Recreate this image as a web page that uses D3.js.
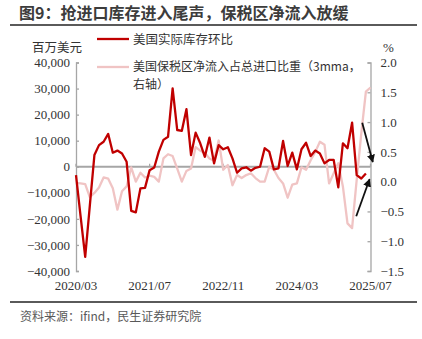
<!DOCTYPE html>
<html>
<head>
<meta charset="utf-8">
<script src="https://cdn.jsdelivr.net/npm/d3@7/dist/d3.min.js"></script>
<style>
  html, body { margin: 0; padding: 0; background: #fff; }
  svg { display: block; }
</style>
</head>
<body>
<svg id="chart" width="422" height="339"></svg>
<script>
// Monthly observations, 2020/03 – 2025/07
const startMonth = new Date(2020, 2, 1);
const monthCount = 65;
const months = d3.timeMonth.range(startMonth, d3.timeMonth.offset(startMonth, monthCount));
const monthLabels = months.map(d3.timeFormat("%Y/%m"));

// US real inventory change, month on month (million USD), 2020/03 – 2025/06
const inventoryChange = [
  -3200, -19000, -34600, -15000, 4500, 8300, 9600, 12600, 5400, 6200,
  5100, 1900, -16900, -17500, -8300, -8100, -1300, -300, 5800, 10300,
  11500, 30100, 14100, 13800, 22100, 4500, 13100, 9000, 3800, 11200,
  1300, 8300, 6700, 7500, 3200, -2300, -600, -200, -1500, -400,
  0, 7100, 5800, -1000, -600, 9900, 300, 5400, -1000, 6700,
  9200, 4100, 6200, 5100, 1300, 2600, 2600, -7900, 9000, 7100,
  16900, -3200, -4500, -2600
];

// Bonded-zone net inflow as share of total imports, 3mma (%), 2020/03 – 2025/07
const bondedShare = [
  -0.02, -0.03, -0.04, -0.26, -0.19, -0.10, 0.07, 0.05, -0.11, -0.47,
  -0.16, -0.08, 0.24, 0.00, 0.15, 0.07, 0.10, 0.08, 0.00, 0.39,
  0.46, 0.43, 0.22, 0.00, 0.18, 0.22, 0.58, 0.52, 0.48, 0.39,
  0.35, 0.69, 0.20, 0.28, -0.06, 0.11, 0.06, 0.11, 0.14, 0.06,
  0.00, 0.00, 0.25, 0.20, 0.06, -0.03, -0.27, -0.05, -0.03, 0.24,
  0.20, 0.36, 0.50, 0.67, 0.62, -0.03, 0.14, 0.31, -0.08, -0.70,
  -0.78, 0.03, 0.81, 1.51, 1.58
];

const xTickLabels = ["2020/03", "2021/07", "2022/11", "2024/03", "2025/07"];
const leftTicks = [40000, 30000, 20000, 10000, 0, -10000, -20000, -30000, -40000];
const rightTicks = [2.0, 1.5, 1.0, 0.5, 0.0, -0.5, -1.0, -1.5];

// Annotation arrows, expressed as [month index, inventory value] pairs
const arrows = [
  { from: [62.2, 16900], to: [64.5, 1800] },
  { from: [60.9, -19000], to: [63.8, -4800] }
];

const titleText = "图9：抢进口库存进入尾声，保税区净流入放缓";
const leftUnit = "百万美元";
const rightUnit = "%";
const legendRed = "美国实际库存环比";
const legendPink = ["美国保税区净流入占总进口比重（3mma，", "右轴）"];
const sourceText = "资料来源：ifind，民生证券研究院";

const svg = d3.select("#chart");
const serif = "'Liberation Serif', 'Times New Roman', serif";
const cjk = "'Noto Sans CJK SC', sans-serif";
const axisGrey = "#a6a6a6";
const red = "#c00000";
const pink = "#f0c4c4";

const plot = { left: 76, right: 370.5, top: 62.5, bottom: 271 };

const x = d3.scaleLinear().domain([0, monthCount - 1]).range([plot.left, plot.right]);
const yL = d3.scaleLinear().domain([-40000, 40000]).range([plot.bottom, plot.top]);
const yR = d3.scaleLinear().domain([-1.5, 2.0]).range([plot.bottom, plot.top]);

// Title and rules
svg.append("text")
  .attr("x", 19).attr("y", 19)
  .attr("font-family", cjk).attr("font-weight", "bold")
  .attr("font-size", 16).attr("fill", "#3c3c3c")
  .text(titleText);
svg.append("line").attr("x1", 10).attr("x2", 417).attr("y1", 25).attr("y2", 25)
  .attr("stroke", "#5a5a5a").attr("stroke-width", 2);
svg.append("line").attr("x1", 10).attr("x2", 417).attr("y1", 302).attr("y2", 302)
  .attr("stroke", "#5a5a5a").attr("stroke-width", 2);
svg.append("text")
  .attr("x", 20).attr("y", 321)
  .attr("font-family", cjk).attr("font-size", 12).attr("fill", "#595959")
  .text(sourceText);

// Unit labels
svg.append("text").attr("x", 32).attr("y", 52)
  .attr("font-family", cjk).attr("font-size", 12.5).attr("fill", "#333")
  .text(leftUnit);
svg.append("text").attr("x", 383).attr("y", 52)
  .attr("font-family", serif).attr("font-size", 13).attr("fill", "#333")
  .text(rightUnit);

// Left axis
const leftAxis = d3.axisLeft(yL).tickValues(leftTicks).tickSizeInner(-3).tickSizeOuter(-3)
  .tickPadding(6).tickFormat(d3.format(","));
const gL = svg.append("g").attr("transform", `translate(${plot.left},0)`).call(leftAxis);
gL.select(".domain").attr("stroke", axisGrey).attr("stroke-width", 1.3);
gL.selectAll(".tick line").attr("stroke", axisGrey).attr("stroke-width", 1.3);
gL.selectAll(".tick text").attr("font-family", serif).attr("font-size", 13).attr("fill", "#333");

// Right axis
const rightAxis = d3.axisRight(yR).tickValues(rightTicks).tickSizeInner(-3).tickSizeOuter(-3)
  .tickPadding(10).tickFormat(d3.format(".1f"));
const gR = svg.append("g").attr("transform", `translate(${plot.right},0)`).call(rightAxis);
gR.select(".domain").attr("stroke", axisGrey).attr("stroke-width", 1.3);
gR.selectAll(".tick line").attr("stroke", axisGrey).attr("stroke-width", 1.3);
gR.selectAll(".tick text").attr("font-family", serif).attr("font-size", 13).attr("fill", "#333");

// Zero line acting as the category axis, with small ticks at the labelled months
const tickIdx = xTickLabels.map(l => monthLabels.indexOf(l));
svg.append("line")
  .attr("x1", plot.left).attr("x2", plot.right)
  .attr("y1", yL(0)).attr("y2", yL(0))
  .attr("stroke", axisGrey).attr("stroke-width", 2);
svg.selectAll(".xtick").data(tickIdx).join("line")
  .attr("class", "xtick")
  .attr("x1", d => x(d)).attr("x2", d => x(d))
  .attr("y1", yL(0)).attr("y2", yL(0) - 3)
  .attr("stroke", axisGrey).attr("stroke-width", 1.3);
svg.selectAll(".xlabel").data(tickIdx).join("text")
  .attr("class", "xlabel")
  .attr("x", d => x(d)).attr("y", 290)
  .attr("text-anchor", "middle")
  .attr("font-family", serif).attr("font-size", 13).attr("fill", "#333")
  .text(d => monthLabels[d]);

// Series
const pinkLine = d3.line().x((d, i) => x(i)).y(d => yR(d));
const redLine = d3.line().x((d, i) => x(i)).y(d => yL(d));

svg.append("path").datum(bondedShare)
  .attr("d", pinkLine).attr("fill", "none")
  .attr("stroke", pink).attr("stroke-width", 2.3).attr("stroke-linejoin", "round");
svg.append("path").datum(inventoryChange)
  .attr("d", redLine).attr("fill", "none")
  .attr("stroke", red).attr("stroke-width", 2.3).attr("stroke-linejoin", "round");

// Arrows
const defs = svg.append("defs");
defs.append("marker")
  .attr("id", "head").attr("viewBox", "0 0 10 10")
  .attr("refX", 9).attr("refY", 5)
  .attr("markerWidth", 4.5).attr("markerHeight", 4.5)
  .attr("orient", "auto")
  .append("path").attr("d", "M0,0 L10,5 L0,10 Z").attr("fill", "#111");
svg.selectAll(".arrow").data(arrows).join("line")
  .attr("class", "arrow")
  .attr("x1", d => x(d.from[0])).attr("y1", d => yL(d.from[1]))
  .attr("x2", d => x(d.to[0])).attr("y2", d => yL(d.to[1]))
  .attr("stroke", "#111").attr("stroke-width", 1.8)
  .attr("marker-end", "url(#head)");

// Legend
const lg = svg.append("g");
lg.append("line").attr("x1", 97).attr("x2", 129).attr("y1", 39).attr("y2", 39)
  .attr("stroke", red).attr("stroke-width", 2.3);
lg.append("text").attr("x", 133).attr("y", 43.5)
  .attr("font-family", cjk).attr("font-size", 12.5).attr("fill", "#333")
  .text(legendRed);
lg.append("line").attr("x1", 97).attr("x2", 129).attr("y1", 67).attr("y2", 67)
  .attr("stroke", pink).attr("stroke-width", 2.3);
lg.selectAll(".pinkText").data(legendPink).join("text")
  .attr("class", "pinkText")
  .attr("x", 133).attr("y", (d, i) => 71 + i * 17.5)
  .attr("font-family", cjk).attr("font-size", 12).attr("fill", "#333")
  .text(d => d);
</script>
</body>
</html>
